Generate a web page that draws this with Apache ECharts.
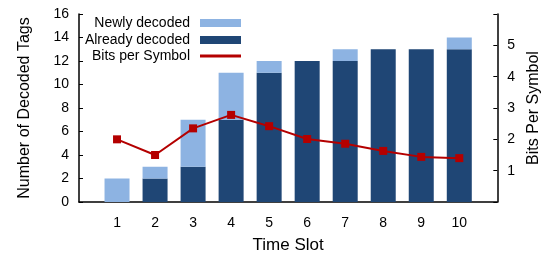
<!DOCTYPE html>
<html>
<head>
    <meta charset="UTF-8"/>
    <script src="https://cdn.jsdelivr.net/npm/echarts@6/dist/echarts.min.js"></script>
    <style>
        html, body {margin: 0; padding: 0; background: #fff;}
        #chart {width: 550px; height: 259px;}
    </style>
</head>
<body>
<div id="chart"></div>
<script type="text/javascript">
    var slots = ["1", "2", "3", "4", "5", "6", "7", "8", "9", "10"];
    var alreadyDecoded = [0, 2, 3, 7, 11, 12, 12, 13, 13, 13];
    var newlyDecoded = [2, 1, 4, 4, 1, 0, 1, 0, 0, 1];
    var bitsPerSymbol = [2.0, 1.5, 2.35, 2.78, 2.42, 2.01, 1.86, 1.63, 1.44, 1.40];

    var font = "Liberation Sans, Arial, sans-serif";
    var lightBlue = "#8db3e2", darkBlue = "#1f4675", red = "#b40000";

    // one empty slot on each side so slot 1..10 sit like on a 0..11 axis
    function padded(vals) {
        return [null].concat(vals, [null]);
    }

    function legendAt(top, name, h) {
        return {
            top: top, right: 304, orient: "vertical", align: "right",
            itemWidth: 41, itemHeight: h, itemGap: 4,
            textStyle: {fontFamily: font, fontSize: 14, color: "#000", padding: [0, 5, 0, 0]},
            data: [{name: name, icon: "rect"}]
        };
    }

    var chart = echarts.init(document.getElementById("chart"));
    chart.setOption({
        animation: false,
        textStyle: {fontFamily: font},
        grid: {left: 79, right: 52, top: 14, bottom: 54},
        legend: [
            legendAt(11, "Newly decoded", 8),
            legendAt(28, "Already decoded", 8),
            legendAt(44, "Bits per Symbol", 3)
        ],
        xAxis: {
            type: "category", boundaryGap: false,
            data: padded(slots).map(function (s) { return s || ""; }),
            name: "Time Slot", nameLocation: "middle", nameGap: 35,
            nameTextStyle: {fontFamily: font, fontSize: 17, color: "#000"},
            axisLine: {lineStyle: {color: "#000", width: 1.5}},
            axisTick: {show: false},
            splitLine: {show: false},
            axisLabel: {fontFamily: font, fontSize: 14, color: "#000", margin: 14, interval: 0}
        },
        yAxis: [
            {
                type: "value", min: 0, max: 16, interval: 2,
                name: "Number of Decoded Tags", nameLocation: "middle", nameGap: 46,
                nameTextStyle: {fontFamily: font, fontSize: 16, color: "#000"},
                axisLine: {show: true, lineStyle: {color: "#000", width: 1.5}},
                axisTick: {show: true, inside: true, length: 4, lineStyle: {color: "#000"}},
                splitLine: {show: false},
                axisLabel: {fontFamily: font, fontSize: 14, color: "#000", margin: 10}
            },
            {
                type: "value", min: 0, max: 6, interval: 1, position: "right",
                name: "Bits Per Symbol", nameLocation: "middle", nameGap: 28,
                nameTextStyle: {fontFamily: font, fontSize: 16, color: "#000"},
                axisLine: {show: true, lineStyle: {color: "#000", width: 1.5}},
                axisTick: {show: true, inside: true, length: 4, lineStyle: {color: "#000"}},
                splitLine: {show: false},
                axisLabel: {
                    fontFamily: font, fontSize: 14, color: "#000", margin: 10,
                    formatter: function (v) { return (v >= 1 && v <= 5) ? String(v) : ""; }
                }
            }
        ],
        series: [
            {
                name: "Already decoded", type: "bar", stack: "tags", barWidth: 25,
                itemStyle: {color: darkBlue},
                data: padded(alreadyDecoded)
            },
            {
                name: "Newly decoded", type: "bar", stack: "tags", barWidth: 25,
                itemStyle: {color: lightBlue},
                data: padded(newlyDecoded)
            },
            {
                name: "Bits per Symbol", type: "line", yAxisIndex: 1,
                symbol: "rect", symbolSize: 8,
                itemStyle: {color: red},
                lineStyle: {color: red, width: 2},
                data: padded(bitsPerSymbol)
            }
        ]
    });
</script>
</body>
</html>
